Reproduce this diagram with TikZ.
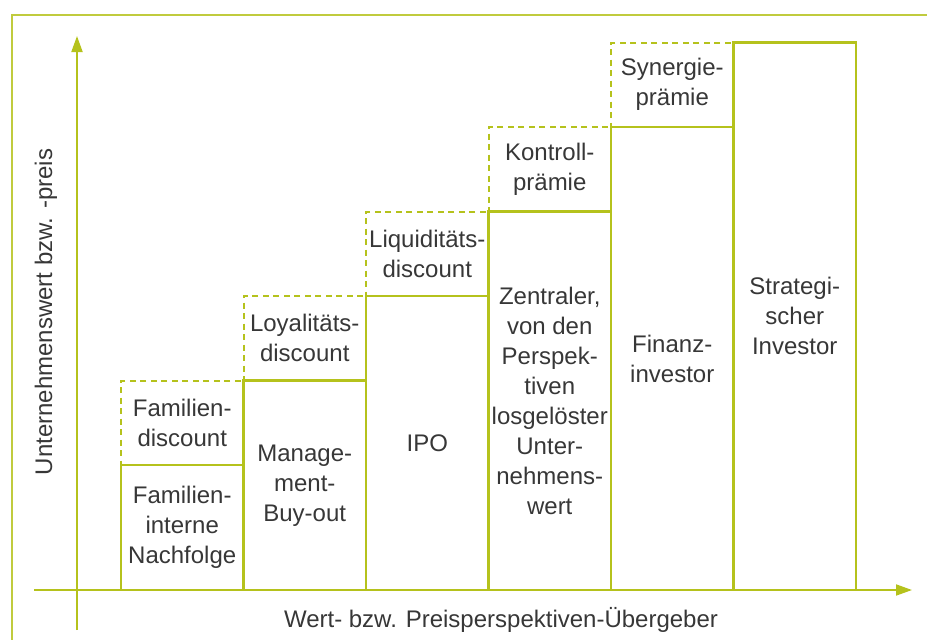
\documentclass[tikz,border=0pt]{standalone}
\usepackage{fontspec}
\setmainfont{Liberation Sans}
\usetikzlibrary{arrows.meta}
\definecolor{lime}{RGB}{181,194,28}
\definecolor{txt}{RGB}{55,55,55}
\begin{document}
\begin{tikzpicture}[x=1pt,y=-1pt,
  lbl/.style={text=txt,font=\fontsize{24}{30}\selectfont,align=center,inner sep=0pt},
  bar/.style={lbl,draw=lime,line width=2.2pt,minimum width=122.5pt,outer sep=0pt},
  extra/.style={bar,line width=2pt,dash pattern=on 6pt off 4.5pt},
  axis/.style={draw=lime,line width=1.8pt,-{Triangle[width=11pt,length=16pt]}},
  frame/.style={draw=lime!85,line width=2.2pt}]
\useasboundingbox (0,0) rectangle (927,640);
% frame
\coordinate (fb) at (12,640);
\coordinate (fc) at (12,15);
\coordinate (fr) at (927,15);
\draw[frame] (fb) -- (fc) -- (fr);
% dashed boxes
\node[extra,minimum height=84.5pt] (d1) at (182.25,422.75) {Familien-\\discount};
\node[extra,minimum height=84.5pt] (d2) at (304.75,338.25) {Loyalitäts-\\discount};
\node[extra,minimum height=84.5pt] (d3) at (427.25,253.75) {Liquiditäts-\\discount};
\node[extra,minimum height=84.5pt] (d4) at (549.75,169.25) {Kontroll-\\prämie};
\node[extra,minimum height=84.5pt] (d5) at (672.25,84.75) {Synergie-\\prämie};
% solid bars
\node[bar,minimum height=125pt] (b1) at (182.25,527.5) {Familien-\\interne\\Nachfolge};
\node[bar,minimum height=209.5pt] (b2) at (304.75,485.25) {Manage-\\ment-\\Buy-out};
\node[bar,minimum height=294pt] (b3) at (427.25,443) {IPO};
\node[bar,minimum height=378.5pt] (b4) at (549.75,400.75) {Zentraler,\\von den\\Perspek-\\tiven\\losgelöster\\Unter-\\nehmens-\\wert};
\node[bar,minimum height=463pt] (b5) at (672.25,358.5) {Finanz-\\investor};
\node[bar,minimum height=547.5pt] (b6) at (794.75,316.25) {Strategi-\\scher\\Investor};
% axes
\coordinate (yb) at (77,630);
\coordinate (yt) at (77,36);
\coordinate (xb) at (34,590);
\coordinate (xt) at (912,590);
\draw[axis] (yb) -- (yt);
\draw[axis] (xb) -- (xt);
% axis labels
\node[lbl] (xl) at (501,620) {Wert- bzw. Preisperspektiven-Übergeber};
\node[lbl,rotate=90] (yl) at (46,312) {Unternehmenswert bzw. -preis};
\end{tikzpicture}
\end{document}
